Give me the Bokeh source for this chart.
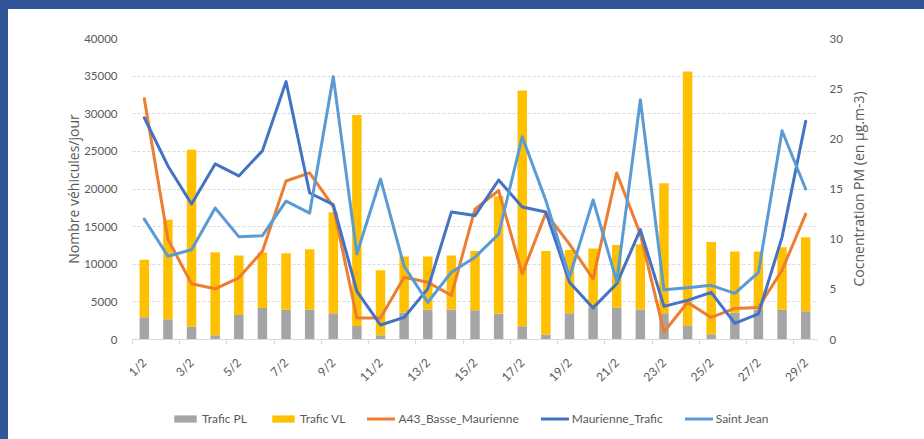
import math
from bokeh.plotting import figure
from bokeh.models import (Range1d, LinearAxis, FixedTicker, SingleIntervalTicker, Legend,
                          LegendItem, Div, ColumnDataSource)
from bokeh.layouts import column, row
from bokeh.embed import file_html
from bokeh.resources import INLINE

# ---------------- data ----------------
dates = ["1/2", "2/2", "3/2", "4/2", "5/2", "6/2", "7/2", "8/2", "9/2", "10/2",
         "11/2", "12/2", "13/2", "14/2", "15/2", "16/2", "17/2", "18/2", "19/2", "20/2",
         "21/2", "22/2", "23/2", "24/2", "25/2", "26/2", "27/2", "28/2", "29/2"]

trafic_pl = [2950, 2700, 1700, 570, 3250, 4200, 3950, 3950, 3500, 1800,
             570, 3600, 3990, 3990, 3900, 3450, 1750, 650, 3500, 4300,
             4250, 3950, 3500, 1800, 700, 3550, 3950, 3950, 3750]

trafic_vl = [7650, 13200, 23500, 11030, 7900, 7350, 7500, 8050, 13400, 28050,
             8630, 7430, 7040, 7160, 7850, 15600, 31350, 11100, 8400, 7800,
             8300, 8700, 17250, 33800, 12250, 8150, 7750, 8300, 9850]

a43_basse_maurienne = [24.0, 10.0, 5.55, 5.05, 6.15, 8.8, 15.8, 16.6, 13.25, 2.15,
                       2.15, 6.2, 5.7, 4.4, 13.0, 14.85, 6.55, 12.6, 9.5, 6.05,
                       16.6, 10.5, 0.75, 3.7, 2.2, 3.1, 3.2, 6.9, 12.5]

maurienne_trafic = [22.1, 17.3, 13.5, 17.5, 16.3, 18.8, 25.7, 14.6, 13.45, 4.8,
                    1.45, 2.2, 5.05, 12.7, 12.35, 15.9, 13.2, 12.7, 5.7, 3.15,
                    5.55, 10.95, 3.3, 3.9, 4.7, 1.6, 2.55, 10.2, 21.75]

saint_jean = [12.0, 8.3, 8.95, 13.1, 10.25, 10.35, 13.8, 12.6, 26.2, 8.55,
              16.0, 7.3, 3.7, 6.7, 8.2, 10.5, 20.2, 13.85, 6.2, 13.9,
              5.8, 23.9, 4.95, 5.15, 5.4, 4.6, 6.7, 20.8, 15.0]

left_title = "Nombre véhicules/jour"
right_title = "Cocnentration PM (en µg.m-3)"
legend_labels = ["Trafic PL", "Trafic VL", "A43_Basse_Maurienne",
                 "Maurienne_Trafic", "Saint Jean"]

# ---------------- style ----------------
BLUE = "#2F5597"
GREY_TXT = "#595959"
GRID = "#D9D9D9"
C_PL = "#A5A5A5"
C_VL = "#FFC000"
C_A43 = "#ED7D31"
C_MT = "#4472C4"
C_SJ = "#5B9BD5"

W, H = 924, 439
TOP_BAND, LEFT_BAND = 9, 8
MAIN_H = 390                    # main figure height
LEG_H = H - TOP_BAND - MAIN_H   # legend strip height
MAIN_W = 837                    # main figure width
TITLE_W = W - LEFT_BAND - MAIN_W  # strip holding the right-hand title
BORDER_TOP = 29
BORDER_LEFT = 124
FRAME_W = 688
FRAME_H = 301

xs = list(range(len(dates)))
vl_top = [a + b for a, b in zip(trafic_pl, trafic_vl)]
src = ColumnDataSource(dict(x=xs, pl=trafic_pl, vl_bottom=trafic_pl, vl_top=vl_top,
                            a43=a43_basse_maurienne, mt=maurienne_trafic, sj=saint_jean))


def draw_series(fig):
    r_pl = fig.vbar(x="x", bottom=0, top="pl", width=0.4, source=src,
                    fill_color=C_PL, line_color=None)
    r_vl = fig.vbar(x="x", bottom="vl_bottom", top="vl_top", width=0.4, source=src,
                    fill_color=C_VL, line_color=None)
    r_a43 = fig.line(x="x", y="a43", source=src, y_range_name="pm", line_color=C_A43,
                     line_width=3, line_join="round", line_cap="round")
    r_mt = fig.line(x="x", y="mt", source=src, y_range_name="pm", line_color=C_MT,
                    line_width=3, line_join="round", line_cap="round")
    r_sj = fig.line(x="x", y="sj", source=src, y_range_name="pm", line_color=C_SJ,
                    line_width=3, line_join="round", line_cap="round")
    return [r_pl, r_vl, r_a43, r_mt, r_sj]


p = figure(width=MAIN_W, height=MAIN_H, output_backend="svg",
           toolbar_location=None,
           x_range=Range1d(-0.5, len(dates) - 0.5), y_range=Range1d(0, 40000),
           min_border_left=BORDER_LEFT, min_border_right=MAIN_W - BORDER_LEFT - FRAME_W,
           min_border_top=BORDER_TOP,
           min_border_bottom=MAIN_H - BORDER_TOP - FRAME_H)
p.outline_line_color = None
p.background_fill_color = "white"
p.border_fill_color = "white"
p.extra_y_ranges = {"pm": Range1d(0, 30)}
draw_series(p)

# left axis
yl = p.yaxis[0]
yl.ticker = SingleIntervalTicker(interval=5000)
yl.axis_line_color = None
yl.major_tick_line_color = None
yl.minor_tick_line_color = None
yl.major_tick_out = 0
yl.major_tick_in = 0
yl.major_label_text_font = "Lato"
yl.major_label_text_font_size = "11.5px"
yl.major_label_text_color = GREY_TXT
yl.major_label_standoff = 11
yl.axis_label = left_title
yl.axis_label_text_font = "Open Sans"
yl.axis_label_text_font_size = "14px"
yl.axis_label_text_font_style = "normal"
yl.axis_label_text_color = GREY_TXT
yl.axis_label_standoff = -2

# right axis (tick labels only; its title sits in the strip to the right)
yr = LinearAxis(y_range_name="pm", ticker=SingleIntervalTicker(interval=5))
yr.axis_line_color = None
yr.major_tick_line_color = None
yr.minor_tick_line_color = None
yr.major_tick_out = 0
yr.major_tick_in = 0
yr.major_label_text_font = "Lato"
yr.major_label_text_font_size = "11.5px"
yr.major_label_text_color = GREY_TXT
yr.major_label_standoff = 8
p.add_layout(yr, "right")

# x axis
xa = p.xaxis[0]
label_ticks = xs[::2]
xa.ticker = FixedTicker(ticks=label_ticks,
                        minor_ticks=[t - 0.5 for t in label_ticks])
xa.major_label_overrides = {t: dates[t] for t in label_ticks}
xa.major_label_orientation = math.pi / 4
xa.major_label_text_font = "Lato"
xa.major_label_text_font_size = "12px"
xa.major_label_text_color = GREY_TXT
xa.major_label_standoff = 16
xa.axis_line_color = GRID
xa.axis_line_width = 1
xa.major_tick_line_color = None
xa.major_tick_out = 0
xa.major_tick_in = 0
xa.minor_tick_line_color = GRID
xa.minor_tick_in = 0
xa.minor_tick_out = 5

# grid
p.xgrid.grid_line_color = None
p.ygrid.ticker = SingleIntervalTicker(interval=5000)
p.ygrid.grid_line_color = GRID
p.ygrid.grid_line_dash = "3 2"
p.ygrid.grid_line_width = 1

# right-hand title strip: an empty figure whose left axis carries the title
tf = figure(width=TITLE_W, height=H - TOP_BAND, output_backend="svg",
            toolbar_location=None, x_range=Range1d(0, 1), y_range=Range1d(0, 1),
            min_border_left=0, min_border_right=0, min_border_top=BORDER_TOP,
            min_border_bottom=H - TOP_BAND - BORDER_TOP - FRAME_H)
tf.xaxis.visible = False
tf.grid.visible = False
tf.outline_line_color = None
tf.background_fill_color = "white"
tf.border_fill_color = "white"
ta = tf.yaxis[0]
ta.ticker = FixedTicker(ticks=[])
ta.axis_line_color = None
ta.major_tick_line_color = None
ta.minor_tick_line_color = None
ta.major_tick_out = 0
ta.major_tick_in = 0
ta.major_label_standoff = 0
ta.axis_label = right_title
ta.axis_label_text_font = "Open Sans"
ta.axis_label_text_font_size = "14px"
ta.axis_label_text_font_style = "normal"
ta.axis_label_text_color = GREY_TXT
ta.axis_label_standoff = 0

# legend strip: a small figure holding only the legend (its series are hidden)
lf = figure(width=MAIN_W, height=LEG_H, output_backend="svg",
            toolbar_location=None, x_range=Range1d(-0.5, len(dates) - 0.5),
            y_range=Range1d(0, 40000),
            min_border_left=BORDER_LEFT, min_border_right=MAIN_W - BORDER_LEFT - FRAME_W,
            min_border_top=0, min_border_bottom=8)
lf.extra_y_ranges = {"pm": Range1d(0, 30)}
lf.axis.visible = False
lf.grid.visible = False
lf.outline_line_color = None
lf.background_fill_color = "white"
lf.border_fill_color = "white"
leg_renderers = draw_series(lf)
for r in leg_renderers:
    r.visible = False

legend = Legend(items=[LegendItem(label=lab, renderers=[r])
                       for lab, r in zip(legend_labels, leg_renderers)],
                orientation="horizontal", location=(39, 5))
legend.glyph_width = 28
legend.glyph_height = 9
legend.label_standoff = 3
legend.spacing = 22
legend.padding = 0
legend.margin = 0
legend.border_line_color = None
legend.background_fill_alpha = 0
legend.inactive_fill_alpha = 0
legend.label_text_font = "Lato"
legend.label_text_font_size = "12px"
legend.label_text_color = GREY_TXT
lf.add_layout(legend, "center")

# blue frame bands
top_band = Div(text="", width=W, height=TOP_BAND, margin=0,
               styles={"background-color": BLUE})
left_band = Div(text="", width=LEFT_BAND, height=H - TOP_BAND, margin=0,
                styles={"background-color": BLUE})
layout = column(top_band,
                row(left_band, column(p, lf, spacing=0), tf, spacing=0),
                spacing=0)

open("out.html", "w").write(file_html(layout, INLINE))
